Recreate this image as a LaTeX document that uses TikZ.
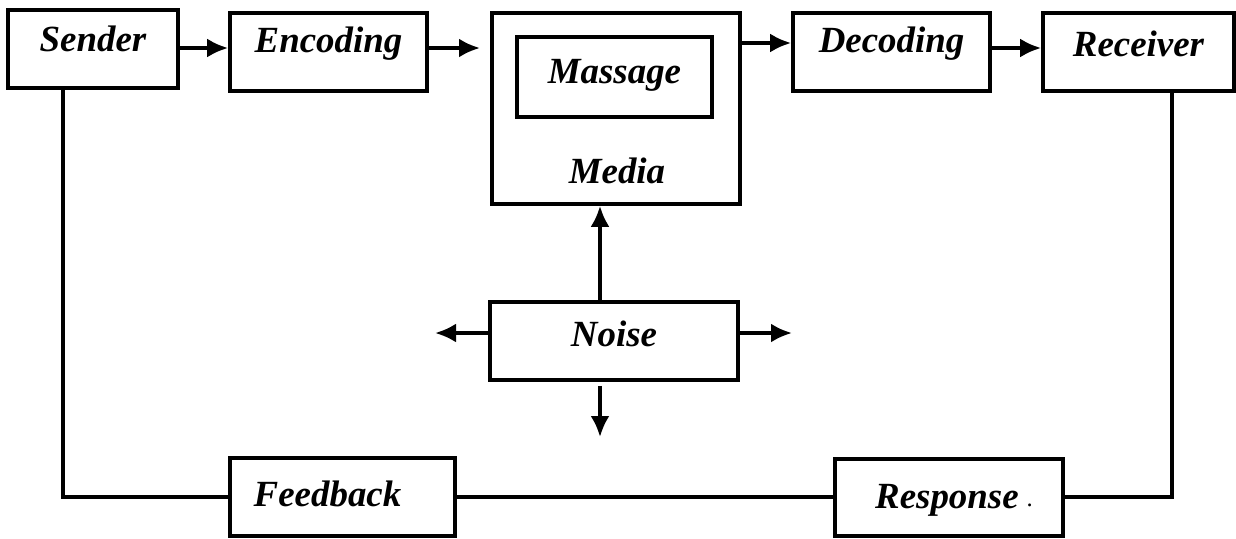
\documentclass[tikz,border=0pt]{standalone}
\usepackage{fontspec}
\setmainfont{Liberation Serif}
\usetikzlibrary{arrows.meta}
\tikzset{
  lbl/.style={inner sep=0pt, text height=14pt, text depth=0pt, font=\fontsize{21}{25}\selectfont\bfseries\itshape},
  box/.style={lbl, draw, line width=2.1pt},
  conn/.style={line width=2.1pt},
  arr/.style={line width=2.1pt, -{Latex[length=0.42cm,width=0.38cm]}}
}
\begin{document}
\begin{tikzpicture}[x=0.02cm,y=-0.02cm]
\useasboundingbox (0,0) rectangle (1236,538);
\node[box, minimum width=3.4cm, minimum height=1.56cm] (Sender) at (93,49) {\raisebox{0.2cm}{Sender}};
\node[box, minimum width=3.94cm, minimum height=1.56cm] (Encoding) at (328.5,52) {\raisebox{0.24cm}{Encoding}};
\node[box, minimum width=4.96cm, minimum height=3.82cm] (Media) at (616,108.5) {};
\node[box, minimum width=3.9cm, minimum height=1.6cm] (Massage) at (614.5,77) {\raisebox{0.12cm}{Massage}};
\node[lbl] (MediaT) at (617,171) {Media};
\node[box, minimum width=3.94cm, minimum height=1.56cm] (Decoding) at (891.5,52) {\raisebox{0.24cm}{Decoding}};
\node[box, minimum width=3.82cm, minimum height=1.56cm] (Receiver) at (1138.5,52) {\raisebox{0.16cm}{Receiver}};
\node[box, minimum width=4.96cm, minimum height=1.56cm] (Noise) at (614,341) {\raisebox{0.14cm}{Noise}};
\node[box, minimum width=4.5cm, minimum height=1.56cm] (Feedback) at (342.5,497) {\raisebox{0.06cm}{Feedback}\kern0.6cm};
\node[box, minimum width=4.56cm, minimum height=1.54cm] (Response) at (949,497.5) {\kern0.2cm\raisebox{0.03cm}{Response\hspace{0.16cm}\raisebox{0.04cm}{\mdseries\upshape\fontsize{14}{16}\selectfont .}}};
\coordinate (encEnd) at (480,48);
\coordinate (nl) at (435,333);
\coordinate (nr) at (792,333);
\coordinate (nd) at (600,437);
\coordinate (sl) at (63,497);
\coordinate (rl) at (1172,497);
% top arrows
\draw[arr] (Sender.east |- 0,48) -- (Encoding.west |- 0,48);
\draw[arr] (Encoding.east |- encEnd) -- (encEnd);
\draw[arr] (Media.east |- 0,43) -- (Decoding.west |- 0,43);
\draw[arr] (Decoding.east |- 0,48) -- (Receiver.west |- 0,48);
% noise arrows
\draw[arr] (Noise.north -| nd) -- (Media.south -| nd);
\draw[arr] (Noise.west |- nl) -- (nl);
\draw[arr] (Noise.east |- nr) -- (nr);
\draw[arr] (Noise.south -| nd) ++(0,4) -- (nd);
% feedback loop
\draw[conn] (Sender.south -| sl) -- (sl) -- (Feedback.west |- sl);
\draw[conn] (Feedback.east |- sl) -- (Response.west |- sl);
\draw[conn] (Response.east |- rl) -- (rl) -- (Receiver.south -| rl);
\end{tikzpicture}
\end{document}
